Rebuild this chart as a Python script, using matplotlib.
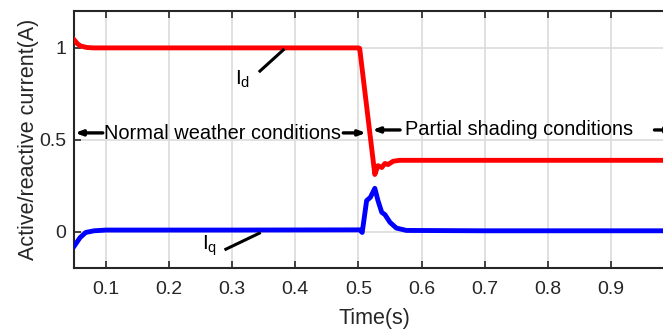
import matplotlib
matplotlib.use("Agg")
import matplotlib.pyplot as plt

plt.rcParams['font.family'] = ['Liberation Sans', 'DejaVu Sans']
plt.rcParams['mathtext.fontset'] = 'custom'
plt.rcParams['mathtext.rm'] = 'Liberation Sans'
plt.rcParams['mathtext.it'] = 'Liberation Sans'

# Active current (Id) trace, time in seconds
t_id = [0.05, 0.055, 0.06, 0.07, 0.08, 0.2, 0.35, 0.5, 0.502, 0.526, 0.531,
        0.537, 0.542, 0.547, 0.555, 0.565, 0.6, 0.8, 1.0]
id_vals = [1.04, 1.02, 1.008, 1.0, 0.998, 0.998, 0.998, 0.998, 0.995, 0.31,
           0.358, 0.348, 0.37, 0.364, 0.382, 0.387, 0.387, 0.387, 0.387]

# Reactive current (Iq) trace
t_iq = [0.05, 0.059, 0.068, 0.081, 0.1, 0.3, 0.502, 0.506, 0.513, 0.519,
        0.526, 0.531, 0.537, 0.542, 0.55, 0.56, 0.576, 0.7, 1.0]
iq_vals = [-0.078, -0.033, -0.005, 0.004, 0.008, 0.008, 0.009, -0.005, 0.168,
           0.186, 0.235, 0.168, 0.104, 0.092, 0.05, 0.019, 0.006, 0.004, 0.004]

x_ticks = [0.1, 0.2, 0.3, 0.4, 0.5, 0.6, 0.7, 0.8, 0.9]
x_tick_labels = ['0.1', '0.2', '0.3', '0.4', '0.5', '0.6', '0.7', '0.8', '0.9']
y_ticks = [0, 0.5, 1]
y_tick_labels = ['0', '0.5', '1']

fig = plt.figure(figsize=(6.63, 3.35), dpi=100)
ax = fig.add_axes([0.1122, 0.199, 0.9044, 0.769])

ax.plot(t_id, id_vals, color='#ff0000', lw=3.5, solid_joinstyle='round', zorder=3)
ax.plot(t_iq, iq_vals, color='#0000ff', lw=3.5, solid_joinstyle='round', zorder=3)

ax.set_xlim(0.05, 1.0)
ax.set_ylim(-0.2, 1.2)
ax.set_xticks(x_ticks)
ax.set_xticklabels(x_tick_labels)
ax.set_yticks(y_ticks)
ax.set_yticklabels(y_tick_labels)
ax.grid(True, color='#dcdcdc', lw=1.2, zorder=0)
ax.set_axisbelow(True)

for s in ax.spines.values():
    s.set_linewidth(1.5)
    s.set_color('#262626')
ax.tick_params(direction='in', length=5, width=1.2, colors='#262626',
               labelsize=14, top=True, right=True)
ax.tick_params(axis='x', pad=9)
ax.tick_params(axis='y', pad=6)
ax.set_xlabel('Time(s)', fontsize=15.5, color='#262626', labelpad=7)
ax.set_ylabel('Active/reactive current(A)', fontsize=15.5, color='#262626', labelpad=0)

# Curve labels with leader lines
ax.text(0.316, 0.826, r'I$_{\mathregular{d}}$', fontsize=15, ha='center', va='center')
ax.plot([0.344, 0.381], [0.872, 0.987], color='black', lw=2.2, zorder=4)
ax.text(0.264, -0.078, r'I$_{\mathregular{q}}$', fontsize=15, ha='center', va='center')
ax.plot([0.290, 0.343], [-0.096, -0.009], color='black', lw=2.2, zorder=4)

# Operating-condition annotations
arrow = dict(arrowstyle='-|>,head_length=0.4,head_width=0.15', color='black',
             lw=2.4, shrinkA=0, shrinkB=0)
ax.text(0.097, 0.532, 'Normal weather conditions', fontsize=14.4,
        ha='left', va='center', zorder=5)
ax.annotate('', xy=(0.051, 0.536), xytext=(0.095, 0.536), arrowprops=arrow, zorder=5)
ax.annotate('', xy=(0.512, 0.536), xytext=(0.476, 0.536), arrowprops=arrow, zorder=5)
ax.text(0.574, 0.556, 'Partial shading conditions', fontsize=14.4,
        ha='left', va='center', zorder=5)
ax.annotate('', xy=(0.522, 0.552), xytext=(0.566, 0.552), arrowprops=arrow, zorder=5)
ax.annotate('', xy=(1.0, 0.552), xytext=(0.969, 0.552), arrowprops=arrow, zorder=5)

fig.savefig('out.png', dpi=100)
